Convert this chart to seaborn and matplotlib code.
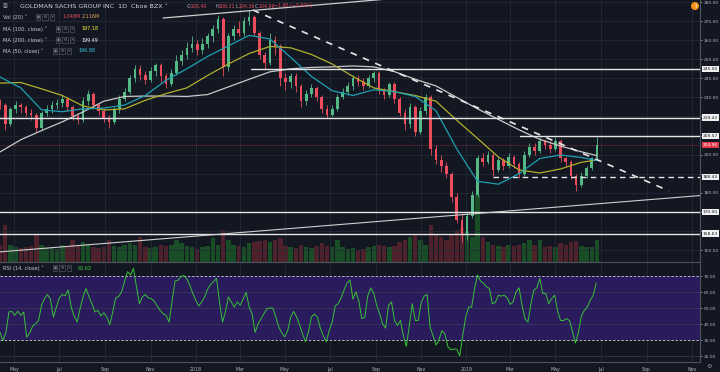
import matplotlib
matplotlib.use("Agg")
import matplotlib.pyplot as plt
import matplotlib.transforms as mtransforms
import pandas as pd
import seaborn as sns

# ---- data (weekly candles, first week 2017-04-12) ----
week_start = "2017-04-12"
opens = [228, 226, 216, 224, 226, 225, 222, 221, 214, 222,
         224, 226, 227, 229, 225, 220, 218, 228, 232, 226,
         223, 219, 217, 224, 229, 233, 240, 245, 242, 239,
         244, 247, 241, 237, 243, 249, 252, 256, 258, 255,
         258, 262, 266, 271, 246, 262, 266, 264, 270, 272,
         264, 252, 248, 260, 257, 240, 238, 241, 236, 228,
         232, 235, 230, 224, 221, 224, 230, 233, 236, 240,
         238, 236, 240, 243, 234, 231, 237, 229, 222, 216,
         225, 212, 223, 230, 203, 197, 194, 190, 178, 166,
         158, 168, 179, 198, 196, 200, 192, 197, 194, 199,
         195, 190, 200, 204, 202, 207, 205, 203, 207, 198,
         196, 189, 184, 189, 193, 198]
closes = [226, 216, 224, 226, 225, 222, 221, 214, 222, 224,
          226, 227, 229, 225, 220, 218, 228, 232, 226, 223,
          219, 217, 224, 229, 233, 240, 245, 242, 239, 244,
          247, 241, 237, 243, 249, 252, 256, 258, 255, 258,
          262, 266, 271, 246, 262, 266, 264, 270, 272, 264,
          252, 248, 260, 257, 240, 238, 241, 236, 228, 232,
          235, 230, 224, 221, 224, 230, 233, 236, 240, 238,
          236, 240, 243, 234, 231, 237, 229, 222, 216, 225,
          212, 223, 230, 203, 197, 194, 190, 178, 166, 158,
          168, 179, 198, 196, 200, 192, 197, 194, 199, 195,
          190, 200, 204, 202, 207, 205, 203, 207, 198, 196,
          189, 184, 189, 193, 198, 204.96]
highs = [229, 227, 225, 228, 227, 226, 224, 222, 223, 226,
         228, 229, 231, 230, 226, 222, 230, 234, 233, 227,
         224, 221, 225, 231, 235, 242, 247, 247, 244, 246,
         248, 248, 243, 245, 252, 255, 259, 262, 260, 261,
         264, 268, 273, 272, 264, 268, 270, 272, 276, 273,
         265, 254, 264, 262, 258, 243, 243, 243, 237, 234,
         237, 236, 231, 226, 226, 232, 235, 238, 242, 242,
         240, 242, 244, 244, 235, 238, 238, 230, 224, 227,
         226, 225, 232, 231, 205, 200, 196, 191, 180, 169,
         170, 181, 200, 201, 202, 201, 199, 198, 201, 200,
         196, 202, 206, 206, 209, 208, 207, 209, 208, 199,
         197, 190, 191, 194, 199, 209]
lows = [224, 213, 215, 222, 222, 220, 218, 212, 213, 220,
        222, 224, 225, 223, 218, 216, 217, 226, 224, 221,
        217, 214, 216, 222, 228, 232, 238, 239, 237, 238,
        241, 238, 235, 236, 242, 247, 250, 254, 252, 253,
        256, 259, 264, 241, 244, 260, 262, 262, 268, 262,
        250, 245, 247, 252, 236, 234, 235, 233, 225, 226,
        230, 228, 222, 219, 220, 223, 229, 231, 234, 236,
        234, 235, 238, 232, 229, 230, 227, 220, 213, 214,
        210, 211, 221, 200, 195, 191, 188, 175, 164, 154,
        155, 167, 178, 194, 195, 189, 191, 192, 193, 193,
        188, 189, 199, 200, 201, 203, 201, 202, 196, 194,
        187, 181, 183, 188, 192, 197]
volumes = [3.5, 7.5, 3.5, 3.0, 2.8, 3.0, 3.2, 5.5, 3.5, 2.8,
           3.0, 2.7, 3.5, 3.0, 4.5, 3.2, 4.0, 3.5, 3.0, 2.8,
           3.0, 4.5, 3.2, 3.0, 3.5, 3.8, 3.5, 5.0, 3.0, 2.8,
           3.0, 3.5, 3.2, 3.5, 4.5, 3.8, 3.2, 3.0, 2.6, 3.0,
           3.2, 4.8, 3.5, 6.5, 4.5, 3.5, 3.2, 3.0, 3.8, 4.0,
           4.2, 4.5, 4.0, 4.5, 4.8, 3.2, 3.0, 2.8, 3.5, 3.0,
           2.8, 3.2, 3.8, 3.2, 3.0, 4.5, 3.0, 2.6, 2.8, 2.5,
           2.6, 3.0, 3.2, 3.5, 3.2, 3.0, 3.2, 4.0, 4.5, 5.0,
           5.5, 4.5, 3.5, 7.5, 5.5, 5.0, 4.5, 5.5, 6.5, 7.0,
           6.0, 5.0, 13.5, 5.0, 4.0, 3.5, 3.2, 3.0, 3.5, 3.2,
           3.5, 3.8, 4.5, 3.5, 4.5, 3.0, 3.2, 3.0, 3.8, 3.5,
           4.0, 4.2, 3.2, 3.0, 3.0, 4.5]

# moving averages, read every 4th week plus the last week
ma_50 = [240.7, 235.0, 223.5, 222.5, 224.0, 224.4, 226.0, 231.0, 239.0, 245.0,
         251.5, 257.0, 262.5, 260.6, 251.0, 241.0, 233.5, 231.0, 234.0, 233.0,
         230.5, 223.0, 203.0, 186.0, 184.5, 190.0, 198.0, 199.8, 198.5, 196.88]
ma_100 = [237.5, 237.8, 234.5, 231.0, 225.5, 223.4, 224.0, 228.5, 232.0, 235.0,
          241.5, 247.5, 253.0, 256.7, 256.0, 252.5, 247.5, 241.0, 235.0, 233.0,
          231.0, 228.0, 218.0, 208.5, 198.8, 192.0, 190.4, 192.5, 196.0, 197.18]
ma_200 = [201.4, 207.8, 212.6, 217.2, 222.4, 228.0, 230.5, 230.7, 230.7, 230.5,
          231.5, 235.5, 239.5, 243.4, 245.0, 245.7, 246.0, 246.5, 246.0, 243.5,
          239.5, 236.0, 230.0, 224.0, 218.5, 213.0, 208.0, 204.5, 201.5, 199.49]

# RSI(14) read every 4 calendar days from 2017-04-12
rsi_values = [34.8, 29.6, 34.8, 47.5, 47.9, 45.4, 48.0, 45.4, 47.5, 31.7,
              34.4, 38.6, 40.1, 42.2, 51.7, 55.9, 58.4, 55.5, 44.3, 50.6,
              56.3, 58.4, 57.6, 61.2, 50.6, 45.0, 41.2, 49.6, 56.9, 62.2,
              56.9, 52.7, 47.5, 48.5, 45.0, 47.0, 44.3, 39.5, 47.5, 56.3,
              57.2, 60.1, 66.8, 72.7, 70.6, 74.8, 63.3, 52.7, 56.9, 58.4,
              56.3, 55.9, 54.2, 51.3, 48.5, 46.4, 45.4, 41.2, 53.8, 66.8,
              67.3, 69.8, 70.2, 68.1, 64.3, 59.1, 54.8, 51.3, 53.8, 56.9,
              61.8, 64.7, 66.4, 68.5, 53.8, 41.2, 47.5, 56.9, 53.8, 50.6,
              53.8, 51.7, 55.9, 59.7, 50.6, 46.4, 34.8, 40.1, 43.3, 46.4,
              49.6, 50.0, 50.0, 44.3, 38.0, 34.4, 31.9, 35.9, 44.3, 47.9,
              44.3, 39.5, 33.8, 28.9, 35.3, 44.3, 46.2, 44.3, 37.4, 32.7,
              28.9, 35.9, 41.2, 51.3, 52.7, 56.3, 61.2, 65.6, 67.5, 55.5,
              60.1, 54.2, 43.3, 44.3, 57.6, 62.6, 59.1, 51.7, 46.4, 40.1,
              37.4, 51.7, 53.8, 42.2, 39.1, 42.2, 32.7, 26.0, 39.1, 52.7,
              42.2, 42.2, 53.4, 57.4, 58.4, 38.0, 32.7, 26.8, 30.2, 35.9,
              33.8, 25.8, 23.9, 24.3, 24.3, 20.1, 32.7, 44.3, 50.6, 50.6,
              62.2, 70.6, 66.8, 65.4, 63.3, 62.2, 52.7, 53.4, 58.0, 57.4,
              58.0, 56.3, 52.2, 53.8, 60.1, 62.6, 51.7, 43.3, 41.2, 52.7,
              61.2, 62.6, 68.5, 59.1, 59.1, 52.7, 55.9, 58.0, 47.9, 42.2,
              42.2, 43.3, 42.2, 35.3, 28.1, 34.8, 45.0, 48.5, 50.6, 54.8,
              58.0, 65.62]

# drawn levels and trend lines
level_prices = [245.00, 219.43, 209.57, 170.00, 158.63]
level_starts = ["2018-03-16", "2017-04-01", "2019-03-14", "2017-04-01", "2017-04-01"]
support_price = 188.43
support_start = "2019-02-06"
trend_down_dates = ["2018-03-19", "2019-10-01"]
trend_down_prices = [275.8, 181.0]
trend_up_dates = ["2017-04-01", "2019-11-20"]
trend_up_prices = [148.7, 178.8]
trend_top_dates = ["2017-11-18", "2018-10-15"]
trend_top_prices = [271.6, 282.5]
last_price = 204.96

tick_dates = ["2017-05-01", "2017-07-01", "2017-09-01", "2017-11-01", "2018-01-01",
              "2018-03-01", "2018-05-01", "2018-07-01", "2018-09-01", "2018-11-01",
              "2019-01-01", "2019-03-01", "2019-05-01", "2019-07-01", "2019-09-01",
              "2019-11-01"]
tick_labels = ["May", "Jul", "Sep", "Nov", "2018", "Mar", "May", "Jul", "Sep", "Nov",
               "2019", "Mar", "May", "Jul", "Sep", "Nov"]

# ---- styling ----
bg = "#131722"
grid_c = "#262a36"
txt_c = "#b2b5be"
up_c, dn_c = "#53b987", "#eb4d5c"
sns.set_theme(style="dark", rc={"axes.facecolor": bg, "figure.facecolor": bg,
                                "axes.edgecolor": "#4a4e59", "font.family": "DejaVu Sans"})

weeks = pd.date_range(week_start, periods=len(closes), freq="7D")
ma_dates = list(weeks[::4]) + [weeks[-1]]
rsi_dates = pd.date_range(week_start, periods=len(rsi_values), freq="4D")
ticks = pd.to_datetime(tick_dates)
xmin, xmax = pd.Timestamp("2017-04-12"), pd.Timestamp("2019-11-12")

fig = plt.figure(figsize=(7.2, 3.72), dpi=100)
W, H = 720.0, 372.0
ax = fig.add_axes([0, 1 - 262 / H, 700 / W, 262 / H])
axr = fig.add_axes([0, 1 - 362 / H, 700 / W, 100 / H], sharex=ax)

# volume on a twin axis behind the candles
axv = ax.twinx()
axv.set_zorder(ax.get_zorder() - 1)
axv.set_facecolor(bg)
ax.patch.set_visible(False)
is_up = [c >= o for o, c in zip(opens, closes)]
axv.bar(weeks, volumes, width=6.0, color=["#184d25" if u else "#4f222b" for u in is_up], linewidth=0)
axv.set_ylim(0, 52.4)
axv.set_yticks([])
axv.grid(False)

# grid
for a in (ax, axr):
    for t in ticks:
        a.axvline(t, color=grid_c, lw=0.6, zorder=0)
for p in range(150, 290, 10):
    ax.axhline(p, color=grid_c, lw=0.6, zorder=0)

# candles
colors = [up_c if u else dn_c for u in is_up]
ax.vlines(weeks, lows, highs, color=colors, lw=0.6, zorder=3)
ax.bar(weeks, [max(abs(c - o), 0.4) for o, c in zip(opens, closes)],
       bottom=[min(o, c) for o, c in zip(opens, closes)], width=3.6,
       color=colors, linewidth=0, zorder=4)

# moving averages
sns.lineplot(x=ma_dates, y=ma_200, ax=ax, color="#c9c9c9", lw=0.9, zorder=5)
sns.lineplot(x=ma_dates, y=ma_100, ax=ax, color="#b0b02c", lw=0.9, zorder=5)
sns.lineplot(x=ma_dates, y=ma_50, ax=ax, color="#1f9fb2", lw=0.9, zorder=5)

# levels and trendlines
for p, s in zip(level_prices, level_starts):
    ax.plot([pd.Timestamp(s), xmax], [p, p], color="#e6e6e6", lw=1.0, zorder=6)
ax.plot([pd.Timestamp(support_start), xmax], [support_price] * 2, color="#e6e6e6",
        lw=1.0, dashes=(4, 3), zorder=6)
ax.plot(pd.to_datetime(trend_down_dates), trend_down_prices, color="#e6e6e6", lw=1.2,
        dashes=(4, 4), zorder=6)
ax.plot(pd.to_datetime(trend_up_dates), trend_up_prices, color="#cfcfcf", lw=0.8, zorder=6)
ax.plot(pd.to_datetime(trend_top_dates), trend_top_prices, color="#cfcfcf", lw=0.9, zorder=6)
ax.axhline(last_price, color="#b03040", lw=0.6, ls=(0, (1, 1.5)), zorder=2)

ax.set_xlim(xmin, xmax)
ax.set_ylim(143.73, 281.05)
ax.set_xlabel("")
ax.set_ylabel("")

# price scale
lab_size = 3.2
ax.yaxis.tick_right()
ax.set_yticks(list(range(150, 290, 10)))
shown = {150, 180, 200, 230, 240, 250, 260, 270, 280}
ax.set_yticklabels([f"{p:.2f}" if p in shown else "" for p in range(150, 290, 10)])
ax.tick_params(axis="y", labelsize=lab_size, colors=txt_c, length=1.5, width=0.5, pad=1)
ax.tick_params(axis="x", bottom=False, labelbottom=False)
for s in ("top", "left", "bottom"):
    ax.spines[s].set_visible(False)
ax.spines["right"].set_color("#50535e")
ax.spines["right"].set_linewidth(0.8)
for s in axv.spines.values():
    s.set_visible(False)

blend = mtransforms.blended_transform_factory(ax.transAxes, ax.transData)
for p in level_prices + [support_price]:
    ax.text(1.004, p, f"{p:.2f}", transform=blend, fontsize=lab_size, color="#131722",
            va="center", ha="left", clip_on=False,
            bbox=dict(boxstyle="square,pad=0.25", fc="#f0f0f0", ec="none"))
ax.text(1.004, last_price, f"{last_price:.2f}", transform=blend, fontsize=lab_size, color="white",
        va="center", ha="left", clip_on=False,
        bbox=dict(boxstyle="square,pad=0.25", fc="#e03a4a", ec="none"))

# RSI panel
axr.axhspan(30, 70, color="#2a1b5c", lw=0, zorder=0)
for p in (20, 40, 50, 60):
    axr.axhline(p, color="#3a3d52", lw=0.5, zorder=1)
for p in (30, 70):
    axr.axhline(p, color="#c8c8d0", lw=0.6, dashes=(3, 2), zorder=2)
sns.lineplot(x=rsi_dates, y=rsi_values, ax=axr, color="#36c236", lw=0.7, zorder=4)
axr.set_ylim(16.25, 78.75)
axr.set_xlim(xmin, xmax)
axr.set_xlabel("")
axr.set_ylabel("")
axr.yaxis.tick_right()
axr.set_yticks([20, 30, 40, 50, 60, 70])
axr.set_yticklabels([f"{v:.2f}" for v in [20, 30, 40, 50, 60, 70]])
axr.tick_params(axis="y", labelsize=lab_size, colors=txt_c, length=1.5, width=0.5, pad=1)
axr.set_xticks(ticks)
axr.set_xticklabels(tick_labels)
axr.tick_params(axis="x", labelsize=3.4, colors=txt_c, length=2, width=0.5, pad=1.5)
axr.spines["left"].set_visible(False)
for s in ("top", "bottom", "right"):
    axr.spines[s].set_color("#50535e")
    axr.spines[s].set_linewidth(0.8)


# ---- header texts ----
def put(x, y, s, color="#c8cad2", size=3.7, **kw):
    fig.text(x / W, 1 - y / H, s, color=color, fontsize=size, va="center", ha="left", **kw)


def icons(x, y):
    for j, g in enumerate(["\u25c9", "\u2699", "\u2715"]):
        fig.text((x + j * 7) / W, 1 - y / H, g, color="#9598a1", fontsize=2.6, va="center",
                 ha="center", bbox=dict(boxstyle="square,pad=0.25", fc=bg, ec="#5d606b", lw=0.4))


put(3, 6, "\u25a5", size=3.6)
put(20, 6, "GOLDMAN SACHS GROUP INC  1D  Cboe BZX \u02c5", color="#d1d4dc", size=4.6)
for x, s, c in [(187, "O", txt_c), (191, "205.40", dn_c), (215, "H", txt_c), (219, "206.31", dn_c),
                (236, "L", txt_c), (239, "204.36", dn_c), (255, "C", txt_c), (259, "204.96", dn_c),
                (274, "\u22121.90 (\u22120.92%)", dn_c)]:
    put(x, 6, s, color=c, size=3.4)
put(3, 17, "Vol (20) \u02c5")
icons(38, 17)
put(62, 17, "1.048M", color=dn_c, size=3.5)
put(82, 17, "2.116M", color="#e3a45a", size=3.5)
put(3, 29, "MA (100, close) \u02c5")
icons(58, 29)
put(81, 29, "197.18", color="#f2f23a", size=3.5)
put(3, 40, "MA (200, close) \u02c5")
icons(58, 40)
put(81, 40, "199.49", color="#f0f0f0", size=3.5)
put(3, 51, "MA (50, close) \u02c5")
icons(55, 51)
put(78, 51, "196.88", color="#35c6dc", size=3.5)
put(3, 268, "RSI (14, close) \u02c5")
icons(55, 268)
put(78, 268, "65.62", color="#3fcf3f", size=3.5)

fig.text(695 / W, 1 - 6 / H, "!", color="white", fontsize=3.6, fontweight="bold", ha="center",
         va="center", bbox=dict(boxstyle="circle,pad=0.3", fc="#f7931a", ec="none"))
fig.text(709 / W, 1 - 367 / H, "\u2699", color="#9598a1", fontsize=4.5, ha="center", va="center")

fig.savefig("out.png", dpi=100, facecolor=bg)
